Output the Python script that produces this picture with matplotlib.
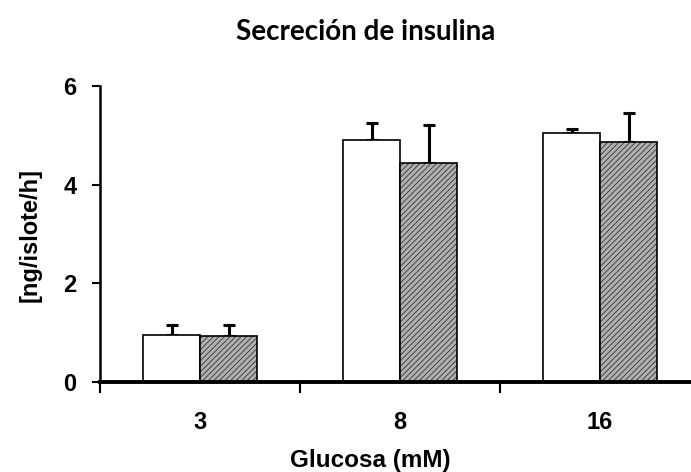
import numpy as np
import matplotlib.pyplot as plt

# glucose concentrations (mM)
categories = ["3", "8", "16"]
control = [0.95, 4.91, 5.04]
control_err = [0.21, 0.33, 0.08]
treated = [0.94, 4.43, 4.87]
treated_err = [0.22, 0.78, 0.58]

plt.rcParams['font.family'] = ['Liberation Sans', 'DejaVu Sans']
plt.rcParams['hatch.linewidth'] = 0.6

fig = plt.figure(figsize=(6.91, 4.72), dpi=100)
ax = fig.add_axes([100 / 691, 1 - 382 / 472, 1 - 100 / 691, (382 - 86) / 472])

x = np.arange(len(categories))
w = 0.285

# white bars
ax.bar(x - w / 2, control, w, color="white", edgecolor="black", linewidth=1.2, zorder=2)
ax.errorbar(x - w / 2, control, yerr=[np.zeros(3), control_err], fmt="none",
            ecolor="black", elinewidth=2.2, capsize=4, capthick=2.2, zorder=1)

# hatched bars (hatch drawn first, then black outline)
ax.bar(x + w / 2, treated, w, color="#b0b0b0", edgecolor="#333333", hatch="//////",
       linewidth=0, zorder=2)
ax.bar(x + w / 2, treated, w, fill=False, edgecolor="black", linewidth=1.2, zorder=3)
ax.errorbar(x + w / 2, treated, yerr=[np.zeros(3), treated_err], fmt="none",
            ecolor="black", elinewidth=2.2, capsize=4, capthick=2.2, zorder=1)

ax.set_xlim(-0.5, 2.455)
ax.set_ylim(0, 6)

ax.spines["top"].set_visible(False)
ax.spines["right"].set_visible(False)
ax.spines["left"].set_linewidth(1.8)
ax.spines["bottom"].set_linewidth(2.8)

ax.set_yticks([0, 2, 4, 6])
ax.set_yticklabels(["0", "2", "4", "6"], fontsize=17, fontweight="bold")
ax.tick_params(axis="y", direction="out", length=6, width=1.5, pad=11)

ax.set_xticks(x)
ax.set_xticklabels(categories, fontsize=17, fontweight="bold")
ax.tick_params(axis="x", which="major", length=0, pad=21)
ax.set_xticks([-0.5, 0.5, 1.5], minor=True)
ax.tick_params(axis="x", which="minor", direction="out", length=8, width=1.5)

fig.text(30 / 691, 1 - 235 / 472, "[ng/islote/h]", rotation=90, ha="center", va="center",
         fontsize=17, fontweight="bold")
fig.text(370 / 691, 1 - 461 / 472, "Glucosa (mM)", ha="center", va="center",
         fontsize=17.5, fontweight="bold")

fig.text(366 / 691, 1 - 32 / 472, "Secreción de insulina", ha="center", va="center",
         fontsize=20, fontweight="bold", family=["Lato", "DejaVu Sans"])

fig.savefig("out.png", dpi=100)
